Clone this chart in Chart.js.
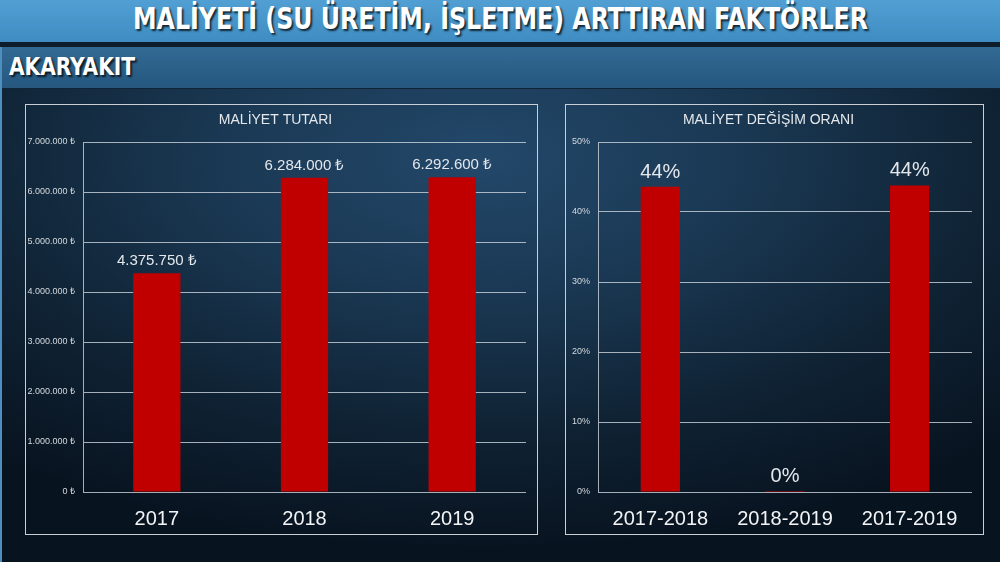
<!DOCTYPE html>
<html lang="tr">
<head>
<meta charset="utf-8">
<title>Maliyeti Arttıran Faktörler</title>
<script src="https://cdn.jsdelivr.net/npm/chart.js"></script>
<style>
  html, body { margin: 0; padding: 0; }
  body {
    width: 1000px; height: 562px; overflow: hidden; position: relative;
    background: radial-gradient(ellipse 75% 70% at 48% 28%, #23486a 0%, #1a3853 35%, #0f2233 70%, #081320 100%);
    font-family: 'Liberation Sans', Arial, sans-serif;
  }
  .edge { position: absolute; left: 0; top: 47px; width: 2px; height: 515px; background: #4f8fc0; }
  .topbar {
    position: absolute; left: 0; top: 0; width: 1000px; height: 42px;
    background: linear-gradient(#519fd3, #3f8cc2);
  }
  .gap { position: absolute; left: 0; top: 42px; width: 1000px; height: 5px; background: #0d1d2b; }
  .subbar {
    position: absolute; left: 0; top: 47px; width: 1000px; height: 41px;
    background: linear-gradient(#326a93, #25577f);
    border-bottom: 1px solid #0f2436;
  }
  .head {
    position: absolute; white-space: nowrap; color: #fff; font-weight: bold;
    font-family: 'DejaVu Sans Condensed', 'DejaVu Sans', sans-serif; font-stretch: condensed;
    text-shadow: 2px 2px 2px rgba(0,0,0,0.75);
    transform-origin: 0 0;
  }
  .panel { position: absolute; top: 104px; height: 431px; border: 1px solid #c9cfd5; box-sizing: border-box; }
  canvas { position: absolute; }
</style>
</head>
<body>
<div class="topbar"></div>
<div class="gap"></div>
<div class="subbar"></div>
<div class="edge"></div>
<div class="head" id="mainTitle" style="top:1px;font-size:30px;">MALİYETİ (SU ÜRETİM, İŞLETME) ARTTIRAN FAKTÖRLER</div>
<div class="head" id="subTitle" style="top:53px;font-size:24px;">AKARYAKIT</div>

<div class="panel" style="left:25px;width:513px;"></div>
<div class="panel" style="left:565px;width:419px;"></div>
<canvas id="costChart" style="left:25px;top:104px;" width="512" height="432"></canvas>
<canvas id="rateChart" style="left:565px;top:104px;" width="418" height="432"></canvas>

<script>
const years = ['2017', '2018', '2019'];
const costs = [4375750, 6284000, 6292600];
const periods = ['2017-2018', '2018-2019', '2017-2019'];
const changeRates = [43.6, 0.14, 43.8];

const textColor = '#e4e8ec';
const gridColor = 'rgba(205, 212, 220, 0.8)';
const barColor = '#c00000';

// fit header text to the width it takes in the slide
function fitHead(el, x, width) {
  const w = el.getBoundingClientRect().width;
  el.style.left = x + 'px';
  el.style.transform = 'scaleX(' + (width / w) + ')';
}
fitHead(document.getElementById('mainTitle'), 133, 735);
fitHead(document.getElementById('subTitle'), 9, 126);

function dotted(n) {
  return String(Math.round(n)).replace(/\B(?=(\d{3})+(?!\d))/g, '.');
}

const valueLabels = {
  id: 'valueLabels',
  afterDatasetsDraw(chart, args, opts) {
    const ctx = chart.ctx;
    const values = chart.data.datasets[0].data;
    ctx.save();
    ctx.font = opts.font;
    ctx.fillStyle = textColor;
    ctx.textAlign = 'center';
    ctx.textBaseline = 'alphabetic';
    chart.getDatasetMeta(0).data.forEach((bar, i) => {
      ctx.fillText(opts.format(values[i]), bar.x, bar.y - opts.offset);
    });
    ctx.restore();
  },
};

function makeChart(canvas, { labels, data, title, max, step, tickFormat, labelFormat, labelFont, labelOffset, barWidth, yWidth }) {
  return new Chart(canvas, {
    type: 'bar',
    data: {
      labels,
      datasets: [{ data, backgroundColor: barColor, borderWidth: 0, barPercentage: barWidth, categoryPercentage: 1 }],
    },
    options: {
      responsive: false,
      animation: false,
      layout: { padding: { top: 0, right: 11, bottom: 0, left: 0 } },
      plugins: {
        legend: { display: false },
        tooltip: { enabled: false },
        title: {
          display: true,
          text: title,
          color: textColor,
          font: { family: "'Liberation Sans', Arial, sans-serif", size: 14, weight: 'normal', lineHeight: 1.2 },
          padding: { top: 8, bottom: 13.2 },
        },
        valueLabels: { font: labelFont, format: labelFormat, offset: labelOffset },
      },
      scales: {
        x: {
          grid: { display: false },
          border: { display: false },
          ticks: { color: '#f2f4f6', font: { family: "'Liberation Sans', Arial, sans-serif", size: 20 }, padding: 7 },
          afterFit: (s) => { s.height = 44; },
        },
        y: {
          min: 0,
          max,
          ticks: {
            stepSize: step,
            color: '#d4d9de',
            font: { family: "'Liberation Sans', Arial, sans-serif", size: 9 },
            padding: 8,
            callback: tickFormat,
          },
          grid: { color: gridColor, lineWidth: 1, drawTicks: false },
          border: { display: true, color: gridColor, width: 1 },
          afterFit: (s) => { s.width = yWidth; },
        },
      },
    },
    plugins: [valueLabels],
  });
}

makeChart(document.getElementById('costChart'), {
  labels: years,
  data: costs,
  title: 'MALİYET TUTARI',
  max: 7000000,
  step: 1000000,
  tickFormat: (v) => dotted(v) + ' ₺',
  labelFormat: (v) => dotted(v) + ' ₺',
  labelFont: "15px 'Liberation Sans', Arial, sans-serif",
  labelOffset: 8,
  barWidth: 0.32,
  yWidth: 58,
});

makeChart(document.getElementById('rateChart'), {
  labels: periods,
  data: changeRates,
  title: 'MALİYET DEĞİŞİM ORANI',
  max: 50,
  step: 10,
  tickFormat: (v) => v + '%',
  labelFormat: (v) => Math.round(v) + '%',
  labelFont: "20px 'Liberation Sans', Arial, sans-serif",
  labelOffset: 9,
  barWidth: 0.315,
  yWidth: 33,
});
</script>
</body>
</html>
